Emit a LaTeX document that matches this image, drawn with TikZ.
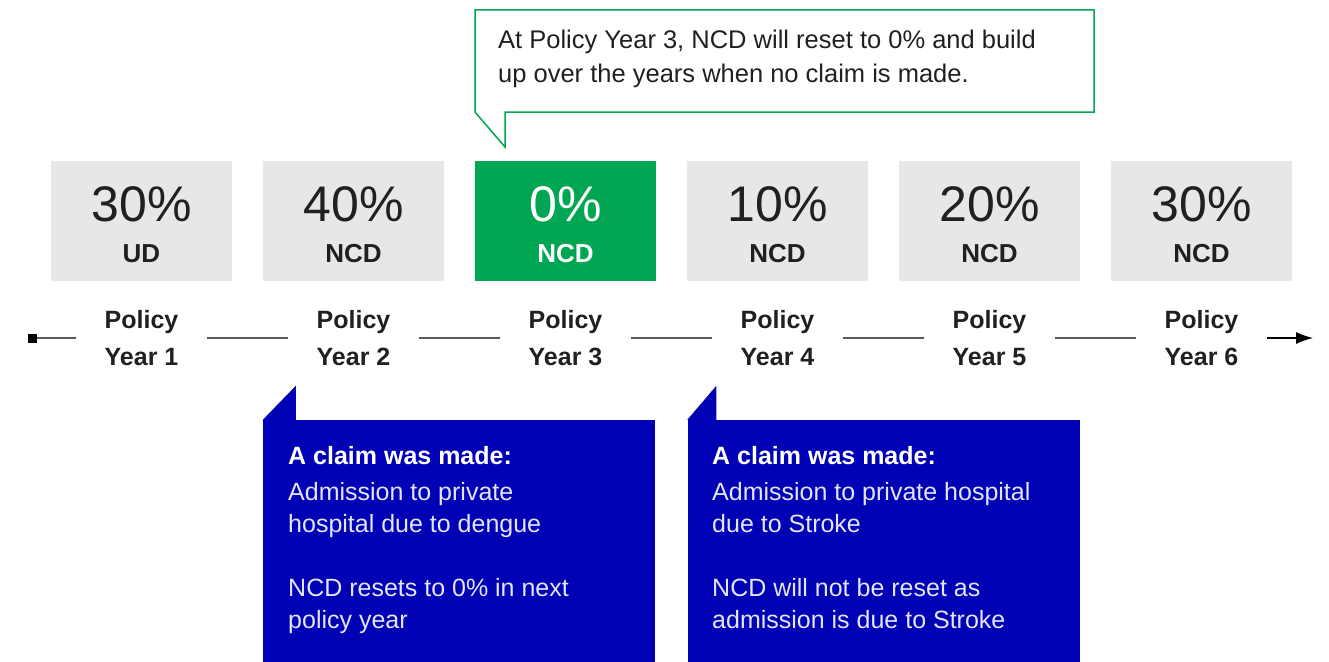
\documentclass[tikz,border=0pt]{standalone}
\usepackage{fontspec}
\setmainfont{Liberation Sans}
\usepackage{xcolor}
\usetikzlibrary{arrows.meta}

\definecolor{boxgray}{HTML}{E6E7E8}
\definecolor{ncdgreen}{HTML}{00A651}
\definecolor{inkdark}{HTML}{231F20}
\definecolor{claimblue}{HTML}{0000B4}
\definecolor{claimink}{HTML}{E4E4FA}
\definecolor{linegray}{HTML}{5A5A5A}

\begin{document}
\begin{tikzpicture}[x=1pt,y=-1pt,
    pctbox/.style={minimum width=181pt,minimum height=120pt,inner sep=0pt},
    pctnum/.style={inner sep=0pt,font=\fontsize{50}{50}\selectfont},
    pctlab/.style={inner sep=0pt,font=\fontsize{26}{26}\selectfont\bfseries},
    yrlab/.style={inner sep=0pt,minimum width=131pt,align=center,text=inkdark,
        font=\fontsize{25}{37}\selectfont\bfseries},
    startsq/.style={fill=black,inner sep=0pt,minimum size=9pt},
    tline/.style={linegray,line width=1.2pt},
    clmbox/.style={fill=claimblue,inner sep=0pt,minimum width=392pt,minimum height=244pt},
    clmtxt/.style={anchor=north west,inner sep=0pt,align=left,text=claimink,
        font=\fontsize{25}{32}\selectfont}]
        \useasboundingbox (0,0) rectangle (1329,661);
        \foreach \i/\v/\t/\f/\c in {1/30/UD/boxgray/inkdark, 2/40/NCD/boxgray/inkdark,
            3/0/NCD/ncdgreen/white, 4/10/NCD/boxgray/inkdark,
            5/20/NCD/boxgray/inkdark, 6/30/NCD/boxgray/inkdark}{
            \node[pctbox, fill=\f] (b\i) at ({141.5+212*(\i-1)},221) {};
            \node[pctnum, text=\c, anchor=base] (v\i) at ({141.5+212*(\i-1)},221) {\v\%};
            \node[pctlab, text=\c, anchor=base] (n\i) at ({141.5+212*(\i-1)},262) {\t};
            \node[yrlab] (p\i) at ({141.5+212*(\i-1)},338) {Policy\\Year \i};
        }
        \node[startsq] (s) at (32.5,338) {};
        \coordinate (e) at (1313,338);
        \draw[tline] (s) -- (p1) -- (p2) -- (p3) -- (p4) -- (p5) -- (p6);
        \draw[tline, -{Latex[length=17pt,width=12pt]}, black] (p6) -- (e);
        \draw[ncdgreen, line width=1.5pt] (475,10) -- (1094,10) -- (1094,112) -- (505,112)
            -- (505,147) -- (475,112) -- cycle;
        \node[anchor=north west, inner sep=0pt, align=left, text=inkdark,
            font=\fontsize{25.5}{34}\selectfont] (note) at (498,30)
            {At Policy Year 3, NCD will reset to 0\% and build\\up over the years when no claim is made.};
        \node[clmbox] (c1) at (459,542) {};
        \fill[claimblue] (c1.north west) -- ++(33,-34) -- ++(0,34) -- cycle;
        \node[clmtxt] (t1) at (288,446) {\textcolor{white}{\bfseries A claim was made:}\\[4pt]
            Admission to private\\hospital due to dengue\\[32pt]
            NCD resets to 0\% in next\\policy year};
        \node[clmbox] (c2) at (883.5,542) {};
        \fill[claimblue] (c2.north west) -- ++(29,-34) -- ++(0,34) -- cycle;
        \node[clmtxt] (t2) at (712,446) {\textcolor{white}{\bfseries A claim was made:}\\[4pt]
            Admission to private hospital\\due to Stroke\\[32pt]
            NCD will not be reset as\\admission is due to Stroke};
    \end{tikzpicture}
\end{document}
